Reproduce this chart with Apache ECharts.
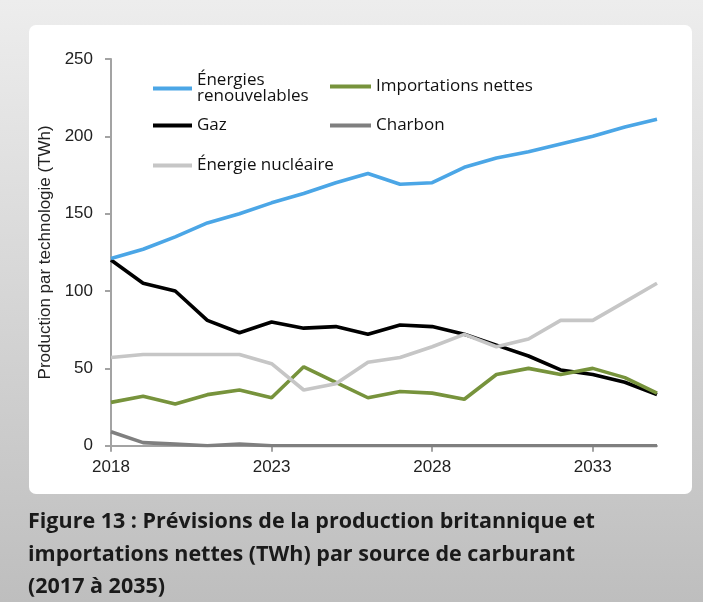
<!DOCTYPE html>
<html><head><meta charset="utf-8">
<script src="https://cdn.jsdelivr.net/npm/echarts@6/dist/echarts.min.js"></script>
<style>html,body{margin:0;padding:0;}#c{width:703px;height:602px;}</style>
</head><body><div id="c"></div>
<script>
const years = ['2018','2019','2020','2021','2022','2023','2024','2025','2026','2027','2028','2029','2030','2031','2032','2033','2034','2035'];
const renouvelables = [121,127,135,144,150,157,163,170,176,169,170,180,186,190,195,200,206,211];
const importations = [28,32,27,33,36,31,51,41,31,35,34,30,46,50,46,50,44,34];
const gaz = [120,105,100,81,73,80,76,77,72,78,77,72,65,58,49,46,41,33];
const charbon = [9,2,1,0,1,0,0,0,0,0,0,0,0,0,0,0,0,0];
const nucleaire = [57,59,59,59,59,53,36,40,54,57,64,72,64,69,81,81,93,105];
const yTicks = [0,50,100,150,200,250];
const caption = 'Figure 13 : Prévisions de la production britannique et\nimportations nettes (TWh) par source de carburant\n(2017 à 2035)';

const chart = echarts.init(document.getElementById('c'), null, {renderer:'canvas'});
const legendFont = {fontFamily:'"Open Sans", sans-serif', fontSize:17, color:'#111', lineHeight:16};
function lg(name, left, top, w){
  return {data:[name], left:left, top:top, padding:0, orient:'horizontal', itemWidth:w, itemHeight:4, itemGap:0,
    icon:'rect', textStyle:Object.assign({}, legendFont), selectedMode:false,
    formatter: n => n === 'Énergies renouvelables' ? 'Énergies\nrenouvelables' : n};
}
function ln(name, data, color, z){
  return {name:name, type:'line', data:data, symbol:'none', z:z,
    lineStyle:{color:color, width:3.6}, itemStyle:{color:color}, emphasis:{disabled:true}};
}
chart.setOption({
  animation:false,
  graphic:[
    {type:'rect', z:-20, shape:{x:0,y:0,width:703,height:602},
     style:{fill:new echarts.graphic.LinearGradient(0,0,0,1,[{offset:0,color:'#ededed'},{offset:1,color:'#bebebe'}])}},
    {type:'rect', z:-19, shape:{x:29,y:25,width:663,height:469,r:7}, style:{fill:'#ffffff'}},
    {type:'text', z:5, left:28, top:506, style:{text:caption, font:'bold 21.5px "Open Sans", sans-serif', fill:'#1a1a1a', lineHeight:32.5}}
  ],
  legend:[
    lg('Énergies renouvelables',153,72,39),
    lg('Importations nettes',330,78,41),
    lg('Gaz',153,117,39),
    lg('Charbon',330,117,41),
    lg('Énergie nucléaire',153,157,39)
  ],
  grid:{left:111, right:46, top:59, bottom:156.3},
  xAxis:{type:'category', data:years, boundaryGap:false,
    axisLine:{lineStyle:{color:'#a3a3a3', width:2}},
    axisTick:{interval:4, length:6, lineStyle:{color:'#a3a3a3', width:2}},
    axisLabel:{interval:4, margin:13, fontFamily:'"Liberation Sans", Arial, sans-serif', fontSize:17, color:'#222'}},
  yAxis:{type:'value', min:yTicks[0], max:yTicks[yTicks.length-1], interval:50,
    name:'Production par technologie (TWh)', nameLocation:'middle', nameGap:55,
    nameTextStyle:{fontFamily:'"Liberation Sans", Arial, sans-serif', fontSize:17, color:'#222'},
    splitLine:{show:false},
    axisLine:{show:true, lineStyle:{color:'#a3a3a3', width:2}},
    axisTick:{show:true, length:6, lineStyle:{color:'#a3a3a3', width:2}},
    axisLabel:{margin:18, fontFamily:'"Liberation Sans", Arial, sans-serif', fontSize:17, color:'#222'}},
  series:[
    ln('Charbon', charbon, '#7f7f7f', 2),
    ln('Gaz', gaz, '#000000', 3),
    ln('Importations nettes', importations, '#77933c', 4),
    ln('Énergies renouvelables', renouvelables, '#4ba6e6', 5),
    ln('Énergie nucléaire', nucleaire, '#c6c6c6', 6)
  ]
});
</script></body></html>
